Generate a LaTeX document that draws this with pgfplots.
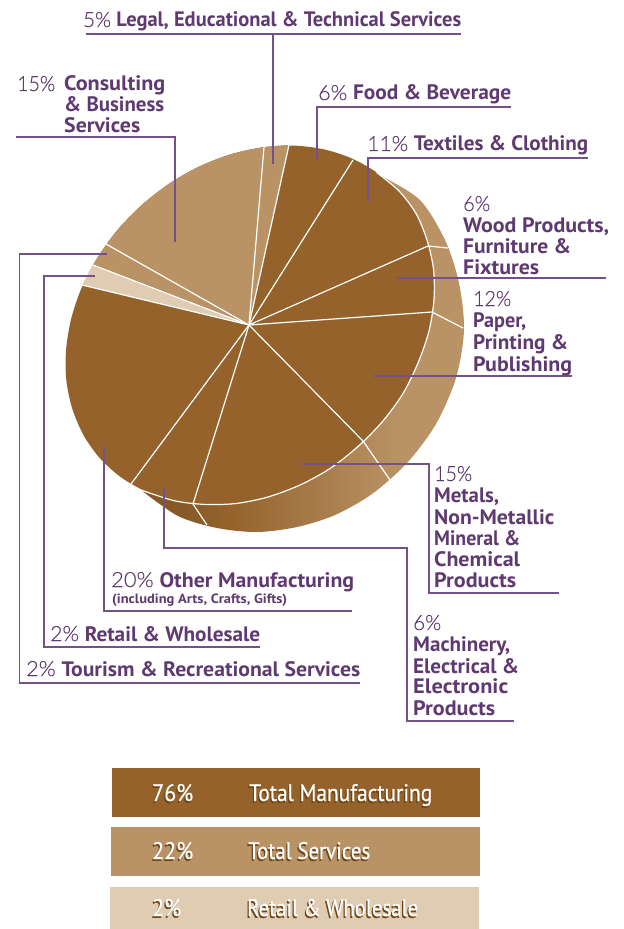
\documentclass[border=0pt]{standalone}
\usepackage{graphicx}
\usepackage{fontspec}
\usepackage{pgfplots}
\pgfplotsset{compat=1.18}
\setmainfont{PT Sans}
\newfontfamily\lightf[FakeBold=0.2]{Lato Light}
\newfontfamily\barf[FakeBold=0.7]{PT Sans}
\definecolor{mfg}{HTML}{94622A}
\definecolor{svc}{HTML}{B99366}
\definecolor{rtl}{HTML}{E0CBB3}
\definecolor{ink}{HTML}{5F3A70}
\definecolor{leader}{HTML}{745188}
\definecolor{shadowbrown}{HTML}{6E4514}
% side wall of the disc: dark at the lower left, tan towards the right
\pgfdeclarehorizontalshading{sidewall}{100bp}{%
  color(0bp)=(mfg!90!black); color(30bp)=(mfg!90!black); color(38bp)=(mfg);
  color(65bp)=(svc); color(100bp)=(svc)}
% one line of a label, set to a given width: percent in light, name in bold
\newcommand{\pctline}[5]{\node[anchor=base west,inner sep=0pt,text=ink] at (axis cs:#1,#2)
  {\resizebox{#3bp}{\height}{\fontsize{21}{21}\selectfont{\lightf #4} \textbf{#5}}};}
\newcommand{\boldline}[4]{\node[anchor=base west,inner sep=0pt,text=ink] at (axis cs:#1,#2)
  {\resizebox{#3bp}{\height}{\fontsize{21}{21}\selectfont\textbf{#4}}};}
\newcommand{\lightline}[4]{\node[anchor=base west,inner sep=0pt,text=ink] at (axis cs:#1,#2)
  {\resizebox{#3bp}{\height}{\fontsize{21}{21}\selectfont\lightf #4}};}
% white text with a brown drop shadow, for the summary bars
\newcommand{\barline}[4]{%
  \node[anchor=base west,inner sep=0pt,text=shadowbrown] at (axis cs:#1-1.2,#2+1.8)
    {\resizebox{#3bp}{\height}{\fontsize{24}{24}\barf #4}};
  \node[anchor=base west,inner sep=0pt,text=white] at (axis cs:#1,#2)
    {\resizebox{#3bp}{\height}{\fontsize{24}{24}\barf #4}};}
\begin{document}
\begin{tikzpicture}
\begin{axis}[
  scale only axis, width=624bp, height=929bp,
  xmin=0, xmax=624, ymin=0, ymax=929, y dir=reverse,
  axis lines=none, clip=false,
  spoke/.style={draw=white, line width=1.2bp},
  lead/.style={draw=leader, line width=1.05bp},
]
% keeps the page as large as the whole plotting area
\addplot[draw=none] coordinates {(0,0) (624,0) (624,929) (0,929)};
% side wall
\addplot[draw=none, shade, shading=sidewall, smooth] coordinates {
  (383,177) (420,200) (445,240) (459,283) (464,330) (456,378) (436,424) (407,463)
  (372,494) (335,515) (297,527) (257,532) (217,528) (178,516) (141,490)};
\addplot[spoke] coordinates {(428,246) (448,248)};
\addplot[spoke] coordinates {(432,312) (463,328)};
\addplot[spoke] coordinates {(363,441) (390,480)};
\addplot[spoke] coordinates {(193,504) (207,525)};

% top face of the disc
\addplot[fill=mfg, draw=none, smooth] coordinates {
  (399,191) (376.6,172.4) (351.8,158.4) (323.8,149.3) (293.6,145.6) (262,147.4)
  (230,154.5) (198.6,166.8) (168.7,184) (141.3,205.4) (117.1,230.4) (97,258.4)
  (81.4,288.3) (71,319.4) (66,350.6) (66.4,381.1) (72.6,409.8) (84,436) (100.4,458.8)
  (121.4,477.6) (146.2,491.6) (174.2,500.7) (204.4,504.4) (236,503.5) (268,497)
  (300,485) (330,468.5) (358,446.5) (382.5,421.5) (403,393.5) (418,363)
  (429,331) (434,299.5) (433.5,269) (427,240) (416,213.5) (399,191)};
% services sectors
\addplot[fill=svc, draw=none] coordinates {
  (249,325) (289,145) (281,145.5) (272,146.3) (262,147.4) (246,150.3) (230,154.5)
  (214,160.1) (198.6,166.8) (183.4,174.8) (168.7,184) (154.7,194.2) (141.3,205.4)
  (128.8,217.4) (117.1,230.4) (106.5,244) (93,265)};
% retail sector
\addplot[fill=rtl, draw=none] coordinates {
  (249,325) (93,265) (87,276) (82,285)};
% white rim between face and wall
\addplot[spoke, smooth] coordinates {
  (376.6,172.4) (399,191) (416,213.5) (427,240) (433.5,269) (434,299.5)
  (429,331) (418,363) (403,393.5) (382.5,421.5) (358,446.5) (330,468.5)
  (300,485) (268,497) (236,503.5) (204.4,504.4) (174.2,500.7) (141,490)};
% sector boundaries
\addplot[spoke] coordinates {(249,325) (106,244)};
\addplot[spoke] coordinates {(249,325) (93,265)};
\addplot[spoke] coordinates {(249,325) (82,285)};
\addplot[spoke] coordinates {(249,325) (264,147)};
\addplot[spoke] coordinates {(249,325) (289,145)};
\addplot[spoke] coordinates {(249,325) (353,160)};
\addplot[spoke] coordinates {(249,325) (428,246)};
\addplot[spoke] coordinates {(249,325) (432,312)};
\addplot[spoke] coordinates {(249,325) (363,441)};
\addplot[spoke] coordinates {(249,325) (193,504)};
\addplot[spoke] coordinates {(249,325) (131,484)};

% leader lines
\addplot[lead] coordinates {(86,34) (461,34)};
\addplot[lead] coordinates {(273,34) (273,164)};
\addplot[lead] coordinates {(511,107) (317,107) (317,160)};
\addplot[lead] coordinates {(588,158) (368,158) (368,202)};
\addplot[lead] coordinates {(606,278) (397,278)};
\addplot[lead] coordinates {(572,376) (373,376)};
\addplot[lead] coordinates {(302,464) (429,464) (429,593) (559,593)};
\addplot[lead] coordinates {(164,488) (164,548) (407,548) (407,721) (514,721)};
\addplot[lead] coordinates {(104,446) (104,611) (352,611)};
\addplot[lead] coordinates {(95,276) (44,276) (44,647) (260,647)};
\addplot[lead] coordinates {(107,254) (19.5,254) (19.5,683) (360,683)};
\addplot[lead] coordinates {(16,137) (175,137) (175,242)};

% summary bars
\addplot[fill=mfg, draw=none] coordinates {(112,768) (480,768) (480,817) (112,817)};
\addplot[fill=svc, draw=none] coordinates {(111,827) (480,827) (480,876) (111,876)};
\addplot[fill=rtl, draw=none] coordinates {(110,887) (479,887) (479,929) (110,929)};

% labels
\pctline{83}{27}{378}{5\%}{Legal, Educational \& Technical Services}
\lightline{17}{91}{38}{15\%}
\boldline{64}{91}{101}{Consulting}
\boldline{64}{112}{100}{\& Business}
\boldline{64}{133}{76}{Services}
\pctline{318}{100}{193}{6\%}{Food \& Beverage}
\pctline{367}{151}{221}{11\%}{Textiles \& Clothing}
\lightline{463}{211}{27}{6\%}
\boldline{463}{232}{146}{Wood Products,}
\boldline{463}{253}{108}{Furniture \&}
\boldline{463}{274}{76}{Fixtures}
\lightline{473}{306}{38}{12\%}
\boldline{473}{327}{53}{Paper,}
\boldline{473}{349}{95}{Printing \&}
\boldline{473}{371}{99}{Publishing}
\lightline{434}{481}{38}{15\%}
\boldline{434}{502}{65}{Metals,}
\boldline{434}{524}{120}{Non-Metallic}
\boldline{434}{545}{86}{Mineral \&}
\boldline{434}{566}{86}{Chemical}
\boldline{434}{587}{82}{Products}
\lightline{413}{630}{28}{6\%}
\boldline{413}{651}{97}{Machinery,}
\boldline{413}{673}{106}{Electrical \&}
\boldline{413}{693}{95}{Electronic}
\boldline{413}{715}{82}{Products}
\pctline{111}{587}{243}{20\%}{Other Manufacturing}
\node[anchor=base west,inner sep=0pt,text=ink] at (axis cs:112,603)
  {\resizebox{175bp}{\height}{\fontsize{13.5}{14}\selectfont\textbf{(including Arts, Crafts, Gifts)}}};
\pctline{50}{641}{210}{2\%}{Retail \& Wholesale}
\pctline{26}{676}{334}{2\%}{Tourism \& Recreational Services}

\barline{152}{801}{41}{76\%}
\barline{249}{801}{183}{Total Manufacturing}
\barline{152}{859}{41}{22\%}
\barline{248}{859}{122}{Total Services}
\barline{152}{916}{29}{2\%}
\barline{247}{916}{171}{Retail \& Wholesale}
\end{axis}
\end{tikzpicture}
\end{document}
